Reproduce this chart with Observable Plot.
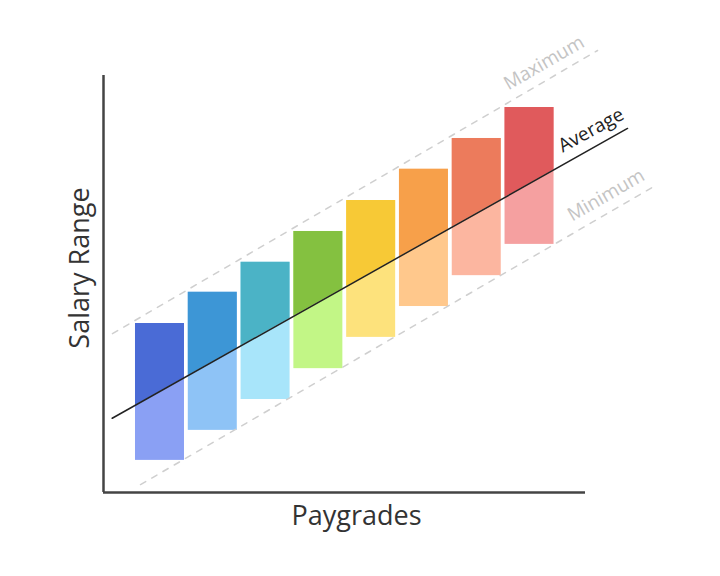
<!DOCTYPE html>
<html>
<head>
<meta charset="utf-8">
<script src="https://cdn.jsdelivr.net/npm/d3@7"></script>
<script src="https://cdn.jsdelivr.net/npm/@observablehq/plot@0.6"></script>
<style>
  html, body { margin: 0; padding: 0; background: #fff; }
  #chart { width: 720px; height: 576px; }
</style>
</head>
<body>
<div id="chart"></div>
<script>
// Data
const grades = [1, 2, 3, 4, 5, 6, 7, 8];
const maxVals = [40.5, 48.0, 55.2, 62.6, 70.0, 77.5, 84.9, 92.3];
const minVals = [7.7, 14.9, 22.3, 29.7, 37.2, 44.6, 52.0, 59.5];
const darkColors = ["#4a6bd6", "#3d96d6", "#4bb3c6", "#84c140", "#f7c936", "#f7a04a", "#ec7b5c", "#e05a5c"];
const lightColors = ["#8aa0f4", "#8ec3f6", "#a8e5fa", "#c2f686", "#fde27c", "#ffc88c", "#fcb6a0", "#f5a0a0"];

// Reference lines (endpoints in data units)
const avgLineX = [0.095, 9.856];
const avgLineY = [17.8, 87.3];
const maxLineX = [0.100, 9.288];
const maxLineY = [38.1, 106.0];
const minLineX = [0.631, 10.424];
const minLineY = [1.9, 73.9];

const lineLabels = ["Maximum", "Average", "Minimum"];
const labelStartX = [7.60, 8.63, 8.81];

const half = 0.464;
const lerp = (xs, ys, x) => ys[0] + (x - xs[0]) * (ys[1] - ys[0]) / (xs[1] - xs[0]);

const bars = grades.map((g, i) => ({g, min: minVals[i], max: maxVals[i], dark: darkColors[i], light: lightColors[i]}));
const darkPts = bars.flatMap(b => [b.g - half, b.g + half].map(x => ({
  g: b.g, x, y1: Math.max(b.min, Math.min(b.max, lerp(avgLineX, avgLineY, x))), y2: b.max, color: b.dark
})));
const mkLine = (xs, ys) => xs.map((x, i) => ({x, y: ys[i]}));
const labelData = [
  {text: lineLabels[0], x: labelStartX[0], y: lerp(maxLineX, maxLineY, labelStartX[0]), fill: "#c4c4c4", rot: -30},
  {text: lineLabels[1], x: labelStartX[1], y: lerp(avgLineX, avgLineY, labelStartX[1]), fill: "#222", rot: -29},
  {text: lineLabels[2], x: labelStartX[2], y: lerp(minLineX, minLineY, labelStartX[2]), fill: "#c4c4c4", rot: -30}
];

const chart = Plot.plot({
  width: 720,
  height: 576,
  marginLeft: 103,
  marginRight: 135,
  marginTop: 75,
  marginBottom: 84,
  style: {fontFamily: "'Open Sans', sans-serif", background: "#fff"},
  x: {domain: [-0.07, 9.06], axis: null},
  y: {domain: [0, 100], axis: null},
  marks: [
    Plot.rectY(bars, {x1: d => d.g - half, x2: d => d.g + half, y1: "min", y2: "max", fill: "light"}),
    Plot.areaY(darkPts, {x: "x", y1: "y1", y2: "y2", z: "g", fill: "color"}),
    Plot.line(mkLine(maxLineX, maxLineY), {x: "x", y: "y", stroke: "#cfcfcf", strokeWidth: 1.5, strokeDasharray: "6,7"}),
    Plot.line(mkLine(minLineX, minLineY), {x: "x", y: "y", stroke: "#cfcfcf", strokeWidth: 1.5, strokeDasharray: "6,7"}),
    Plot.line(mkLine(avgLineX, avgLineY), {x: "x", y: "y", stroke: "#222", strokeWidth: 1.5}),
    Plot.text(labelData, {x: "x", y: "y", text: "text", fill: "fill", rotate: "rot", textAnchor: "start", lineAnchor: "bottom", dy: -12, fontSize: 19}),
    Plot.ruleX([-0.07], {stroke: "#444", strokeWidth: 2.5}),
    Plot.ruleY([0], {stroke: "#444", strokeWidth: 2.5}),
    Plot.text(["Paygrades"], {frameAnchor: "bottom", textAnchor: "middle", dx: 12, dy: 24, lineAnchor: "middle", fontSize: 27, fill: "#333"}),
    Plot.text(["Salary Range"], {frameAnchor: "left", textAnchor: "middle", rotate: -90, dx: -23, dy: -16, lineAnchor: "middle", fontSize: 27, fill: "#333"})
  ]
});
document.getElementById("chart").appendChild(chart);
</script>
</body>
</html>
